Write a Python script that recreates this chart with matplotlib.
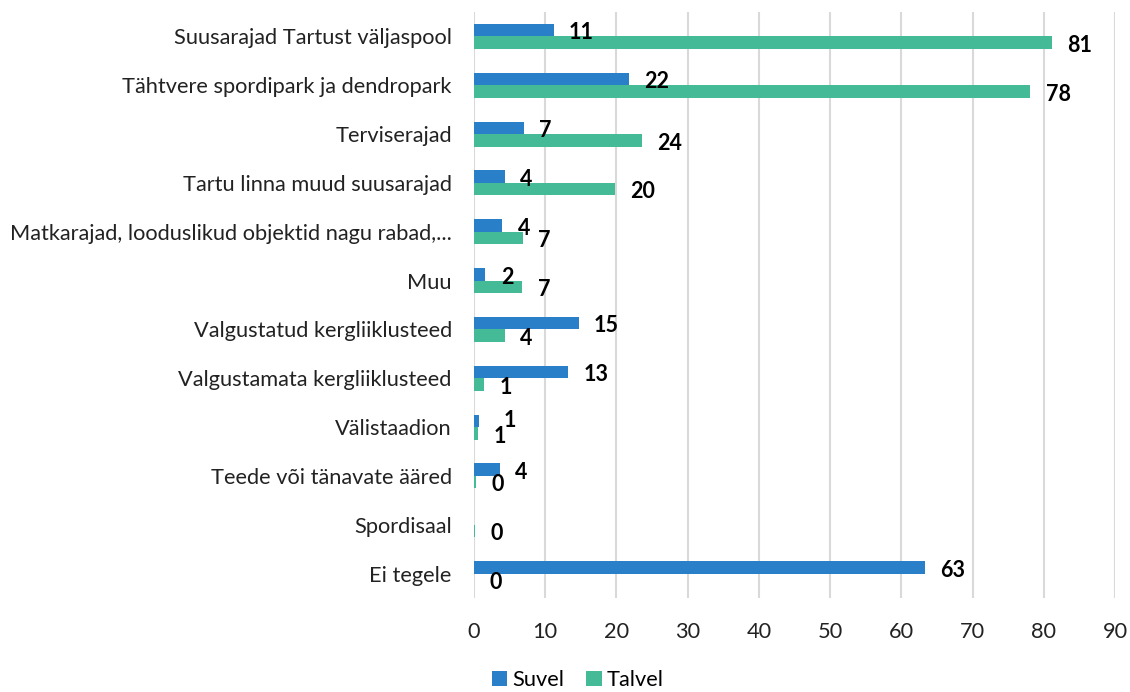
import numpy as np
import matplotlib
matplotlib.use("Agg")
import matplotlib.pyplot as plt

plt.rcParams['font.family'] = ['Lato', 'DejaVu Sans']

categories = ["Suusarajad Tartust väljaspool",
              "Tähtvere spordipark ja dendropark",
              "Terviserajad",
              "Tartu linna muud suusarajad",
              "Matkarajad, looduslikud objektid nagu rabad,...",
              "Muu",
              "Valgustatud kergliiklusteed",
              "Valgustamata kergliiklusteed",
              "Välistaadion",
              "Teede või tänavate ääred",
              "Spordisaal",
              "Ei tegele"]
# Spordisaal has no summer answer
suvel = [11.2, 21.8, 7.0, 4.3, 4.0, 1.6, 14.7, 13.2, 0.7, 3.6, np.nan, 63.3]
talvel = [81.1, 78.1, 23.6, 19.8, 6.9, 6.8, 4.3, 1.4, 0.6, 0.3, 0.2, 0.0]
series_names = ["Suvel", "Talvel"]
xticks = [0, 10, 20, 30, 40, 50, 60, 70, 80, 90]

blue = "#2980C8"
green = "#44BB96"
fs = 15.7

fig = plt.figure(figsize=(11.3, 6.92), dpi=100)
ax = fig.add_axes([474 / 1130, 1 - 598 / 692, 641 / 1130, 586 / 692])

y = np.arange(len(categories))
h = 0.255
b1 = ax.barh(y - h / 2, np.nan_to_num(suvel), height=h, color=blue, label=series_names[0])
b2 = ax.barh(y + h / 2, talvel, height=h, color=green, label=series_names[1])

for k, (bars, vals) in enumerate(((b1, suvel), (b2, talvel))):
    for i, (bar, v) in enumerate(zip(bars, vals)):
        if np.isnan(v):
            continue
        dx, dy = 11, -2
        # push the summer label aside when both bars are tiny
        if k == 0 and v < 1 and talvel[i] < 1:
            dx, dy = 18, 0
        ax.annotate(f"{round(v):d}", (v, bar.get_y() + bar.get_height() / 2),
                    xytext=(dx, dy), textcoords="offset points",
                    ha="left", va="center", fontsize=15.5, fontweight="bold",
                    color="black")

ax.set_ylim(len(categories) - 0.5, -0.5)
ax.set_xlim(0, 90)
ax.set_xticks(xticks)
ax.set_yticks(y)
ax.set_yticklabels(categories)
ax.tick_params(axis="both", length=0, labelsize=fs, colors="#222222")
ax.tick_params(axis="y", pad=16)
ax.tick_params(axis="x", pad=17)
ax.xaxis.grid(True, color="#D9D9D9", linewidth=1.5)
ax.set_axisbelow(True)
for s in ax.spines.values():
    s.set_visible(False)

fig.legend(handles=[b1, b2], loc="center", bbox_to_anchor=(578 / 1130, 1 - 680 / 692),
           ncol=2, frameon=False, fontsize=fs, handlelength=0.7, handleheight=0.7,
           handletextpad=0.25, columnspacing=1.0, borderpad=0)

fig.savefig("out.png", dpi=100)
